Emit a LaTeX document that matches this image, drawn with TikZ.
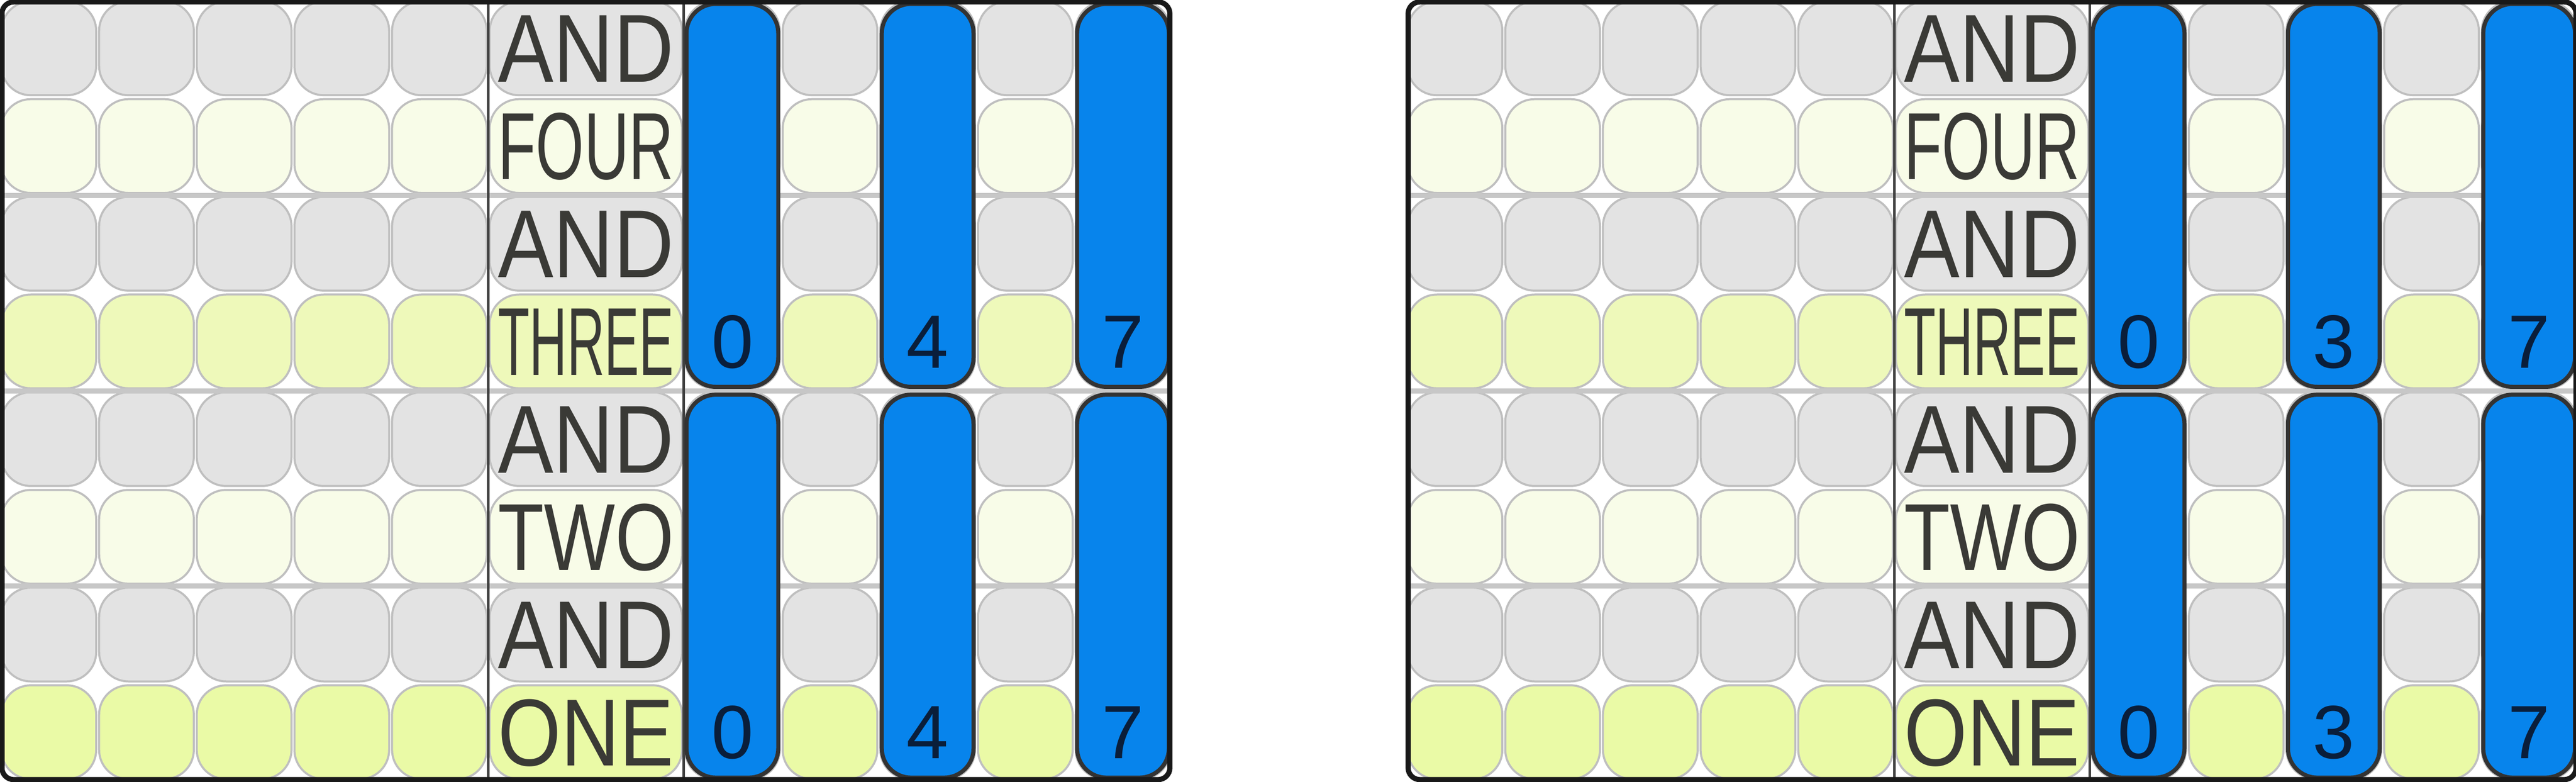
\documentclass[tikz,border=0pt]{standalone}
\usepackage{fontspec}
\setmainfont{Liberation Sans}
\usepackage{graphicx}
\definecolor{cellgray}{HTML}{E3E3E3}
\definecolor{cellpale}{HTML}{F8FCE8}
\definecolor{cellgreen}{HTML}{EEF9BA}
\definecolor{cellone}{HTML}{EAFAA6}
\definecolor{barblue}{HTML}{0784EC}
\definecolor{wordink}{HTML}{3A3A36}
\definecolor{numink}{HTML}{0A1E3A}
\tikzset{
  cell/.style={rounded corners=0.3cm, draw=black!25, line width=0.6pt},
  bar/.style={rounded corners=0.3cm, fill=barblue, draw=black!80, line width=1.2pt},
  word/.style={inner sep=0pt, text=wordink},
  num/.style={inner sep=0pt, text=numink, font=\fontsize{22}{22}\selectfont},
}
\newcommand\rowfill[1]{\ifcase#1 cellgray\or cellpale\or cellgray\or cellgreen\or cellgray\or cellpale\or cellgray\or cellone\fi}
\newcommand\drawpanel[5]{%
\begin{scope}[shift={(#1,0)}]
% background cells
\foreach \r in {0,...,7}
{
  \foreach \c in {0,1,2,3,4,7,8,9,10,11}
    \filldraw[cell, fill=\rowfill{\r}] (\c+0.015,7.985-\r) rectangle (\c+0.985,7.025-\r);
  \filldraw[cell, fill=\rowfill{\r}] (5.015,7.985-\r) rectangle (6.985,7.025-\r);
}
% group lines
\foreach \y in {2,4,6}
  \draw[black!22, line width=1.5pt] (0,\y) -- (12,\y);
\draw[black!75, line width=0.8pt] (5,0) -- (5,8);
\draw[black!75, line width=0.8pt] (7,0) -- (7,8);
% blue bars
\foreach \c in {7,9,11}
{
  \filldraw[bar] (\c+0.03,7.96) rectangle (\c+0.97,4.04);
  \filldraw[bar] (\c+0.03,3.96) rectangle (\c+0.97,0.04);
}
% words
\foreach \w [count=\i from 0] in {AND,FOUR,AND,THREE,AND,TWO,AND,ONE}
  \node[word] (w#5\i) at (6,7.5-\i) {\resizebox{1.8cm}{0.68cm}{\w}};
% numbers
\node[num] (n#5a) at (7.5,4.5) {0};
\node[num] (n#5b) at (9.5,4.5) {#2};
\node[num] (n#5c) at (11.5,4.5) {7};
\node[num] (n#5d) at (7.5,0.5) {0};
\node[num] (n#5e) at (9.5,0.5) {#3};
\node[num] (n#5f) at (11.5,0.5) {#4};
\draw[black!90, line width=1.5pt, rounded corners=0.12cm] (0.02,0.02) rectangle (11.98,7.98);
\end{scope}}
\begin{document}
\begin{tikzpicture}
\useasboundingbox (0,0) rectangle (26.38,8);
\drawpanel{0}{4}{4}{7}{L}
\drawpanel{14.4}{3}{3}{7}{R}
\end{tikzpicture}
\end{document}
